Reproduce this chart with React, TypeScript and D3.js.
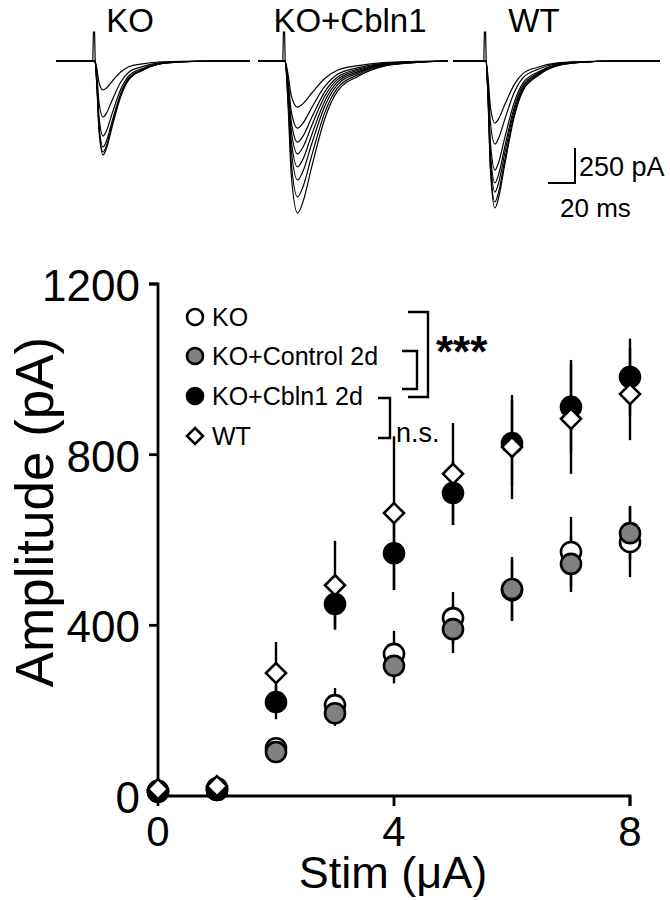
import React from 'react';
import * as d3 from 'd3';

// ---------- data ----------
const stim = [0, 1, 2, 3, 4, 5, 6, 7, 8];
const koMean = [10, 14, 112, 213, 333, 417, 482, 572, 595];
const koSem = [3, 3, 20, 40, 54, 61, 70, 82, 82];
const ctrlMean = [10, 14, 103, 194, 305, 391, 485, 544, 616];
const ctrlSem = [3, 3, 15, 30, 41, 56, 75, 66, 64];
const cblnMean = [12, 18, 220, 450, 569, 710, 827, 912, 982];
const cblnSem = [3, 4, 40, 59, 86, 75, 100, 110, 90];
const wtMean = [16, 23, 288, 494, 663, 755, 818, 884, 942];
const wtSem = [3, 4, 73, 104, 180, 119, 122, 129, 108];

const legendLabels = ['KO', 'KO+Control 2d', 'KO+Cbln1 2d', 'WT'];
const yTicks = [0, 400, 800, 1200];
const xTicks = [0, 4, 8];

// example traces (peak amplitudes in pA)
const traceTitles = ['KO', 'KO+Cbln1', 'WT'];
const koPeaks = [207, 400, 536, 614, 650, 671];
const cblnPeaks = [329, 479, 579, 664, 757, 850, 971, 1086];
const wtPeaks = [443, 593, 779, 871, 936, 1007, 1050];
const traceStretch = [1, 1.55, 1.1];
// normalised EPSC template (ms after stimulus, fraction of peak)
const templateMs = [0, 1.5, 3, 6, 8.5, 12.7, 19, 25, 35, 47, 63, 90, 160];
const templateAmp = [0, 0.3, 0.75, 1, 0.93, 0.7, 0.38, 0.2, 0.1, 0.035, 0.01, 0, 0];

export default function App() {
  const W = 670, H = 900;
  const x = d3.scaleLinear().domain([0, 8]).range([158, 630]);
  const y = d3.scaleLinear().domain([0, 1200]).range([796, 284]);
  const font = 'Liberation Sans, Arial, Helvetica, sans-serif';

  // trace layout
  const base = 61;
  const pxPerMs = 27 / 20;
  const pxPerPA = 35 / 250;
  const traceWin = [
    { x0: 56, stimX: 94, x1: 250, title: 130 },
    { x0: 258, stimX: 284, x1: 448, title: 350 },
    { x0: 453, stimX: 485, x1: 660, title: 534 },
  ];
  const peaksAll = [koPeaks, cblnPeaks, wtPeaks];
  const line = d3.line<[number, number]>().x(d => d[0]).y(d => d[1]).curve(d3.curveMonotoneX);

  const series = [
    { mean: koMean, sem: koSem, kind: 'circle', fill: '#ffffff' },
    { mean: ctrlMean, sem: ctrlSem, kind: 'circle', fill: '#808080' },
    { mean: cblnMean, sem: cblnSem, kind: 'circle', fill: '#000000' },
    { mean: wtMean, sem: wtSem, kind: 'diamond', fill: '#ffffff' },
  ];

  const marker = (kind: string, fill: string, cx: number, cy: number, key: string, r = 10) =>
    kind === 'circle' ? (
      <circle key={key} cx={cx} cy={cy} r={r} fill={fill} stroke="#000" strokeWidth={2.6} />
    ) : (
      <path key={key}
        d={`M${cx},${cy - r}L${cx + r},${cy}L${cx},${cy + r}L${cx - r},${cy}Z`}
        fill={fill} stroke="#000" strokeWidth={2.6} />
    );

  const legY = [317, 356, 396, 436];
  const sbX = 575, sbY = 183;

  return (
    <svg width={W} height={H} style={{ position: 'absolute', left: 0, top: 0, background: '#fff' }}
      fontFamily={font}>
      {/* ---- traces ---- */}
      {traceWin.map((w, gi) => {
        const paths = peaksAll[gi].map((pk, i) => {
          const pts: [number, number][] = [[w.x0, base], [w.stimX, base]];
          templateMs.forEach((t, k) => {
            const px = w.stimX + 1 + t * traceStretch[gi] * pxPerMs;
            if (px <= w.x1) pts.push([px, base + templateAmp[k] * pk * pxPerPA]);
          });
          pts.push([w.x1, base]);
          return <path key={i} d={line(pts) || ''} fill="none" stroke="#000" strokeWidth={1.2} />;
        });
        return (
          <g key={gi}>
            <text x={w.title} y={32} fontSize={33} textAnchor="middle">{traceTitles[gi]}</text>
            <path d={`M${w.stimX - 1.2},${base}L${w.stimX - 0.6},${base - 29}L${w.stimX + 0.6},${base - 29}L${w.stimX + 1.2},${base + 2}`}
              fill="none" stroke="#000" strokeWidth={1.2} />
            {paths}
          </g>
        );
      })}
      {/* scale bar */}
      <path d={`M${sbX},${sbY - 250 * pxPerPA}L${sbX},${sbY}L${sbX - 20 * pxPerMs},${sbY}`} fill="none" stroke="#000" strokeWidth={2} />
      <text x={sbX + 4} y={176} fontSize={27}>250 pA</text>
      <text x={560} y={217} fontSize={26}>20 ms</text>

      {/* ---- axes ---- */}
      <path d={`M${x(0) - 9},${y(1200)}H${x(0)}V${y(0)}H${x(8)}V${y(0) + 10}`} fill="none" stroke="#000" strokeWidth={2.8} />
      {yTicks.map(t => (
        <g key={t}>
          <line x1={x(0) - 9} x2={x(0)} y1={y(t)} y2={y(t)} stroke="#000" strokeWidth={2.8} />
          <text x={x(0) - 18} y={y(t) + 17} fontSize={44} textAnchor="end">{t}</text>
        </g>
      ))}
      {xTicks.map(t => (
        <g key={t}>
          <line x1={x(t)} x2={x(t)} y1={y(0)} y2={y(0) + 10} stroke="#000" strokeWidth={2.8} />
          <text x={x(t)} y={y(0) + 50} fontSize={42} textAnchor="middle">{t}</text>
        </g>
      ))}
      <text transform={`translate(53,512) rotate(-90)`} fontSize={53} textAnchor="middle">Amplitude (pA)</text>
      <text x={393} y={888} fontSize={45} textAnchor="middle">Stim (μA)</text>

      {/* ---- error bars ---- */}
      {series.map((s, si) => stim.map((v, i) => (
        <line key={`e${si}-${i}`} x1={x(v)} x2={x(v)} y1={y(s.mean[i] - s.sem[i])} y2={y(s.mean[i] + s.sem[i])}
          stroke="#000" strokeWidth={2.4} />
      )))}
      {/* ---- markers ---- */}
      {series.map((s, si) => stim.map((v, i) => marker(s.kind, s.fill, x(v), y(s.mean[i]), `m${si}-${i}`)))}

      {/* ---- legend ---- */}
      {legendLabels.map((lab, i) => (
        <g key={lab}>
          {marker(series[i].kind, series[i].fill, 195, legY[i], `l${i}`, 8)}
          <text x={212} y={legY[i] + 9} fontSize={25}>{lab}</text>
        </g>
      ))}
      {/* significance brackets */}
      <path d="M408,312H428V397H408" fill="none" stroke="#000" strokeWidth={2.4} />
      <path d="M402,351H417V389H402" fill="none" stroke="#000" strokeWidth={2.4} />
      <text x={436} y={367} fontSize={44} fontWeight="bold">***</text>
      <path d="M378,398H390V438H378" fill="none" stroke="#000" strokeWidth={2.4} />
      <text x={396} y={442} fontSize={27}>n.s.</text>
    </svg>
  );
}
